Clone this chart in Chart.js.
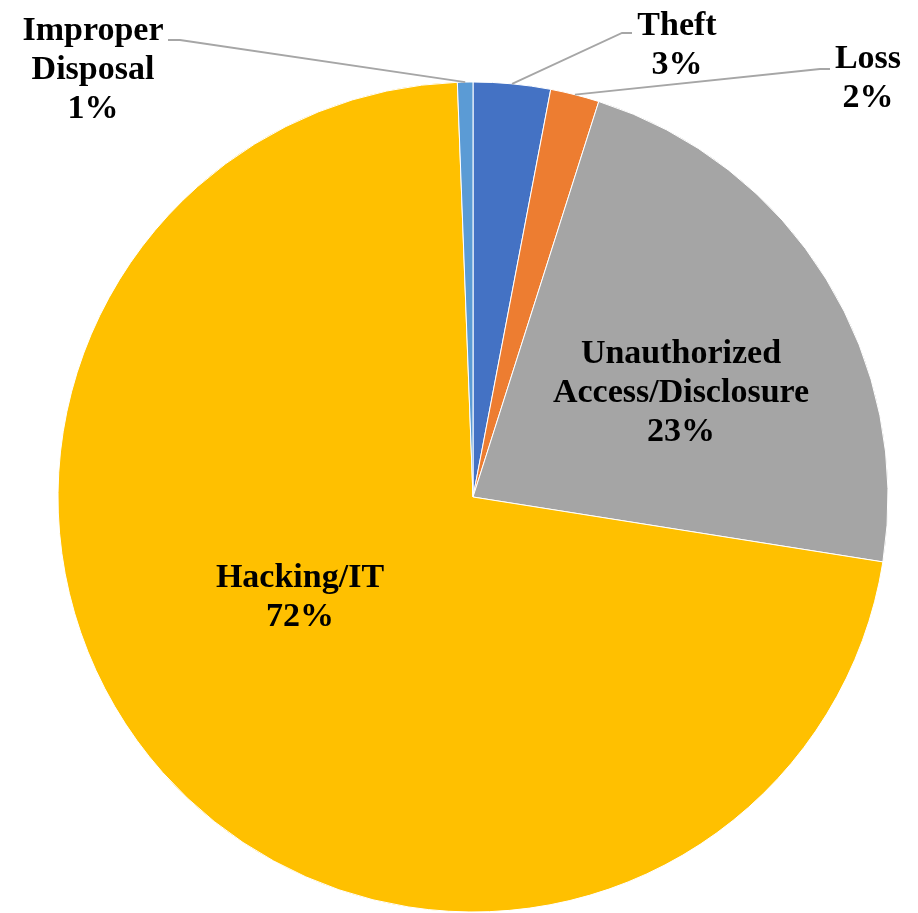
<!DOCTYPE html>
<html>
<head>
<meta charset="utf-8">
<script src="https://cdn.jsdelivr.net/npm/chart.js@4"></script>
<style>
    html, body { margin: 0; padding: 0; background: #fff; }
    #chartBox { width: 918px; height: 913px; position: relative; }
</style>
</head>
<body>
<div id="chartBox"><canvas id="breachChart"></canvas></div>
<script>
// Breach types, clockwise from 12 o'clock
const categories = ['Theft', 'Loss', 'Unauthorized\nAccess/Disclosure', 'Hacking/IT', 'Improper\nDisposal'];
const shares = [3.0, 1.9, 22.6, 71.9, 0.6];
const sliceColors = ['#4472C4', '#ED7D31', '#A5A5A5', '#FFC000', '#5B9BD5'];

// label placement relative to pie centre: [centre x, first baseline y], optional leader [elbow, end]
const labelSpots = [
    { at: [204, -462], leader: [[149, -464], [159, -464]] },
    { at: [395, -429], leader: [[347, -428], [357, -428]] },
    { at: [208, -134] },
    { at: [-173, 90] },
    { at: [-380, -457], leader: [[-293, -457], [-305, -457]] },
];

const sliceLabels = {
    id: 'sliceLabels',
    afterDatasetsDraw(chart) {
        const ctx = chart.ctx;
        const meta = chart.getDatasetMeta(0);
        const total = shares.reduce((a, b) => a + b, 0);
        ctx.save();
        meta.data.forEach((arc, i) => {
            const spot = labelSpots[i];
            const cx = arc.x, cy = arc.y;
            if (spot.leader) {
                const mid = (arc.startAngle + arc.endAngle) / 2;
                const r = arc.outerRadius;
                ctx.beginPath();
                ctx.moveTo(cx + Math.cos(mid) * r, cy + Math.sin(mid) * r);
                spot.leader.forEach(p => ctx.lineTo(cx + p[0], cy + p[1]));
                ctx.strokeStyle = '#A6A6A6';
                ctx.lineWidth = 1.8;
                ctx.stroke();
            }
            const lines = categories[i].split('\n');
            lines.push(Math.round(shares[i] / total * 100) + '%');
            ctx.font = 'bold 34px "Liberation Serif", "Times New Roman", serif';
            ctx.fillStyle = '#000';
            ctx.textAlign = 'center';
            ctx.textBaseline = 'alphabetic';
            lines.forEach((t, k) => {
                ctx.fillText(t, cx + spot.at[0], cy + spot.at[1] + k * 39);
            });
        });
        ctx.restore();
    }
};

new Chart(document.getElementById('breachChart'), {
    type: 'pie',
    data: {
        labels: categories,
        datasets: [{
            data: shares,
            backgroundColor: sliceColors,
            borderColor: '#ffffff',
            borderWidth: 1,
            radius: 415,
        }],
    },
    options: {
        responsive: true,
        maintainAspectRatio: false,
        animation: false,
        layout: { padding: { left: 28, right: 0, top: 81, bottom: 0 } },
        plugins: {
            legend: { display: false },
            tooltip: { enabled: false },
        },
    },
    plugins: [sliceLabels],
});
</script>
</body>
</html>
